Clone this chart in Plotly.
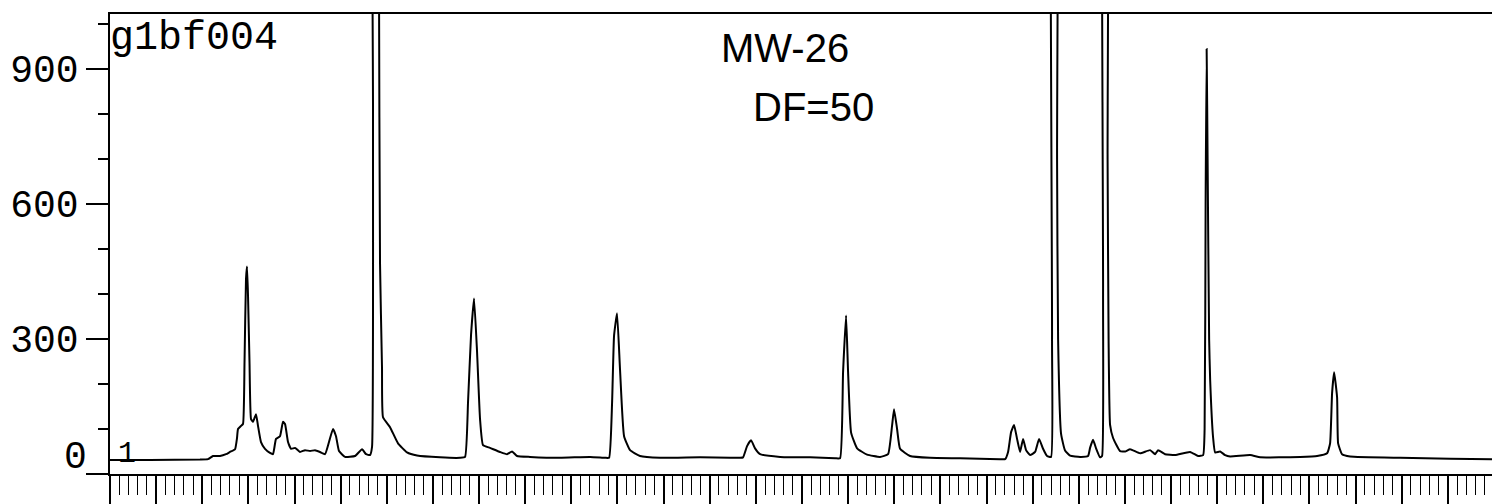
import plotly.graph_objects as go

# Retention time (min) and detector signal
time_min = [0.000, 0.867, 1.951, 2.124, 2.233, 2.385, 2.515, 2.601, 2.710, 2.753,
            2.775, 2.840, 2.883, 2.916, 2.948, 2.970, 2.992, 3.024, 3.057, 3.100,
            3.165, 3.208, 3.273, 3.360, 3.468, 3.533, 3.599, 3.685, 3.750, 3.794,
            3.859, 3.924, 4.010, 4.119, 4.227, 4.336, 4.444, 4.552, 4.661, 4.747,
            4.834, 4.899, 4.964, 5.094, 5.311, 5.463, 5.550, 5.636,
            5.680, 5.701, 5.723, 5.820, 5.831, 5.853, 5.896, 5.918, 6.070, 6.243,
            6.438, 6.655, 7.154, 7.587, 7.696, 7.761, 7.826, 7.891, 7.956, 8.021,
            8.086, 8.237, 8.454, 8.606, 8.715, 8.823, 9.105, 9.755, 10.405, 10.731,
            10.818, 10.883, 10.926, 10.991, 11.056, 11.143, 11.273, 11.489, 11.923, 12.790,
            13.657, 13.722, 13.809, 13.896, 13.982, 14.091, 14.525, 15.175, 15.717, 15.825,
            15.890, 15.955, 15.999, 16.064, 16.194, 16.411, 16.692, 16.865, 16.952, 16.995,
            17.061, 17.126, 17.342, 17.776, 18.426, 19.293, 19.402, 19.467, 19.532, 19.597,
            19.662, 19.727, 19.792, 19.857, 19.944, 20.052, 20.139, 20.225, 20.312, 20.399,
            20.420, 20.442, 20.507, 20.529, 20.551, 20.616, 20.702, 20.811, 21.028, 21.201,
            21.244, 21.309, 21.374, 21.461, 21.504, 21.526, 21.548, 21.602, 21.624, 21.646,
            21.678, 21.743, 21.895, 22.003, 22.112, 22.329, 22.545, 22.654, 22.719, 22.871,
            23.088, 23.413, 23.586, 23.695, 23.727, 23.749, 23.771, 23.792, 23.825, 23.847,
            23.912, 23.955, 24.064, 24.172, 24.280, 24.714, 24.930, 25.364, 25.797, 26.166,
            26.382, 26.447, 26.490, 26.534, 26.599, 26.621, 26.707, 26.881, 27.965, 29.049,
            30.000]
signal = [31, 31, 32, 33, 40, 40, 44, 49, 55, 80,
          100, 107, 111, 249, 433, 461, 395, 248, 122, 116,
          133, 107, 71, 56, 47, 44, 78, 84, 116, 111,
          71, 56, 58, 49, 53, 51, 53, 49, 44, 71,
          100, 84, 51, 38, 40, 55, 44, 42,
          60, 800, 3000, 3000, 1100, 468, 237, 126, 104, 68,
          48, 41, 37, 36, 38, 160, 309, 390, 272, 122,
          64, 58, 49, 44, 50, 40, 38, 36, 38, 36,
          36, 158, 307, 357, 231, 84, 53, 40, 36, 37,
          36, 37, 62, 75, 57, 44, 38, 37, 35, 35,
          226, 352, 226, 92, 57, 43, 38, 44, 107, 144,
          100, 56, 40, 36, 35, 33, 33, 49, 93, 109,
          78, 49, 78, 53, 42, 49, 78, 56, 40, 38,
          300, 3000, 3000, 700, 300, 89, 52, 41, 38, 40,
          58, 76, 57, 37, 40, 400, 3000, 3000, 700, 296,
          109, 80, 51, 50, 55, 46, 53, 44, 53, 44,
          42, 49, 40, 42, 100, 600, 944, 700, 300, 210,
          80, 48, 50, 42, 39, 42, 37, 37, 38, 40,
          46, 68, 179, 226, 170, 68, 44, 39, 36, 34,
          33]

y_major = [0, 300, 600, 900]
y_major_text = ["", "300", "600", "900"]
y_minor = [100, 200, 400, 500, 700, 800, 1000]

sample_id = "g1bf004"
note_line1 = "MW-26"
note_line2 = "DF=50"

fig = go.Figure()
fig.add_trace(go.Scatter(x=time_min, y=signal, mode="lines",
                         line=dict(color="black", width=2, shape="spline", smoothing=0.4),
                         showlegend=False, hoverinfo="skip"))

# the page body keeps its default 8px margin, so the figure is 8px smaller
fig.update_layout(
    width=1492, height=496,
    margin=dict(l=102, r=6, t=6, b=30, autoexpand=False),
    paper_bgcolor="white", plot_bgcolor="white",
    font=dict(family="Liberation Mono", color="black"),
    xaxis=dict(range=[0, 30], showgrid=False, zeroline=False, automargin=False,
               showline=True, linecolor="black", linewidth=1.5, mirror=True,
               tickmode="linear", tick0=0, dtick=1, ticks="outside", ticklen=30,
               tickwidth=1.5, tickcolor="black", showticklabels=False,
               minor=dict(dtick=0.2, tick0=0, ticks="outside", ticklen=19,
                          tickwidth=1.2, tickcolor="black", showgrid=False)),
    yaxis=dict(range=[0, 1022], showgrid=False, zeroline=False, automargin=False,
               showline=True, linecolor="black", linewidth=1.5,
               tickmode="array", tickvals=y_major, ticktext=y_major_text,
               ticks="outside", ticklen=22, tickwidth=1.5, tickcolor="black",
               tickfont=dict(family="Liberation Mono", size=38, color="black"),
               minor=dict(tickvals=y_minor, ticks="outside", ticklen=10,
                          tickwidth=1.5, tickcolor="black", showgrid=False)),
)

# right border of the frame (faint, broken in the scan)
fig.add_shape(type="line", xref="paper", yref="paper", x0=1, x1=1, y0=0, y1=1,
              line=dict(color="#555555", width=1.2, dash="dot"))

fig.add_annotation(text="0", xref="paper", yref="y", x=0, y=36, xanchor="right",
                   yanchor="middle", xshift=-21, showarrow=False,
                   font=dict(family="Liberation Mono", size=38, color="black"))
fig.add_annotation(text=sample_id, xref="paper", yref="paper", x=0, y=1,
                   xanchor="left", yanchor="top", xshift=-2, yshift=0, showarrow=False,
                   font=dict(family="Liberation Mono", size=40, color="black"))
fig.add_annotation(text="1", xref="paper", yref="y", x=0, y=44, xanchor="left",
                   yanchor="middle", xshift=6, showarrow=False,
                   font=dict(family="Liberation Mono", size=30, color="black"))
fig.add_annotation(text=note_line1, xref="paper", yref="paper", x=0.4877, y=0.926,
                   xanchor="center", yanchor="middle", showarrow=False,
                   font=dict(family="Liberation Sans", size=40, color="black"))
fig.add_annotation(text=note_line2, xref="paper", yref="paper", x=0.508, y=0.798,
                   xanchor="center", yanchor="middle", showarrow=False,
                   font=dict(family="Liberation Sans", size=40, color="black"))

fig.write_html("out.html")
